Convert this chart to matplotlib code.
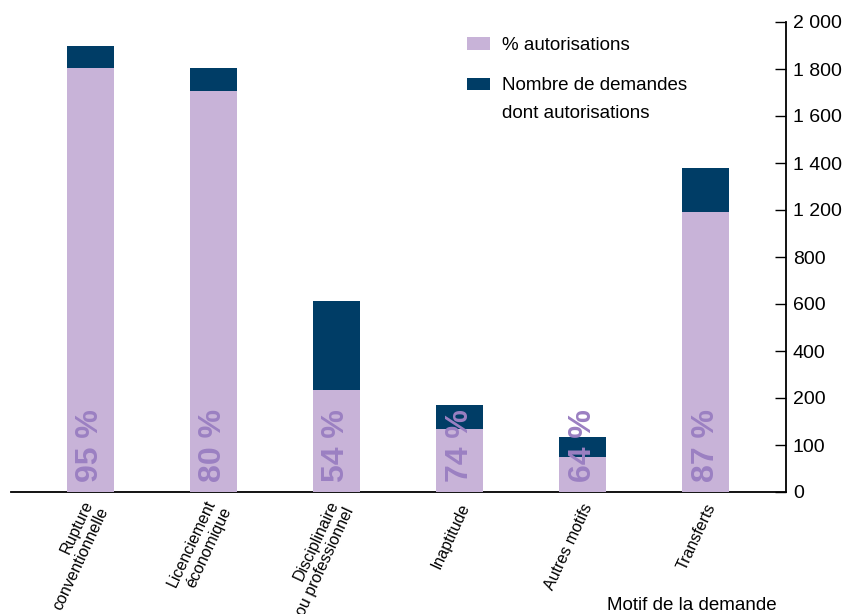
import matplotlib
matplotlib.use("Agg")
import matplotlib.pyplot as plt
from matplotlib.patches import Patch
import matplotlib.transforms as mtransforms

categories = ["Rupture\nconventionnelle", "Licenciement\néconomique", "Disciplinaire\nou professionnel",
              "Inaptitude", "Autres motifs", "Transferts"]
total_demandes = [1899, 1804, 811, 370, 234, 1377]
autorisations = [1803, 1705, 434, 267, 149, 1191]
pct_labels = ["95 %", "80 %", "54 %", "74 %", "64 %", "87 %"]
ytick_values = [0, 200, 400, 600, 800, 1000, 1200, 1400, 1600, 1800, 2000]
ytick_labels = ["0", "100", "200", "400", "600", "800", "1 200", "1 400", "1 600", "1 800", "2 000"]
legend_labels = ["% autorisations", "Nombre de demandes", "dont autorisations"]

PINK = "#c8b3d8"
NAVY = "#003d66"
PCT = "#9b80c2"
FONT = "Liberation Sans"

plt.rcParams['font.family'] = [FONT, 'DejaVu Sans']

fig = plt.figure(figsize=(8.46, 6.14), dpi=100)
ax = fig.add_axes([11/846, 1-492/614, (786-11)/846, (492-22)/614])

x = list(range(len(categories)))
w = 0.382
ax.bar(x, total_demandes, width=w, color=NAVY, zorder=2)
ax.bar(x, autorisations, width=w, color=PINK, zorder=3)

for xi, lab in zip(x, pct_labels):
    ax.text(xi, 42, lab, rotation=90, ha='center', va='bottom', color=PCT,
            fontsize=23, fontweight='bold', zorder=4)

ax.set_xlim(-0.646, 5.654)
ax.set_ylim(0, 2000)

for s in ['top', 'left']:
    ax.spines[s].set_visible(False)
ax.spines['bottom'].set_linewidth(1.3)
ax.spines['right'].set_linewidth(1.3)

ax.yaxis.tick_right()
ax.set_yticks(ytick_values)
ax.set_yticklabels(ytick_labels)
ax.tick_params(axis='y', direction='in', length=8, width=1, labelsize=14, pad=5)

ax.set_xticks(x)
ax.set_xticklabels(categories, rotation=65, ha='right', va='center', rotation_mode='anchor',
                   multialignment='right', fontsize=11.5, linespacing=1.15)
ax.tick_params(axis='x', length=0, pad=9)
offset = mtransforms.ScaledTranslation(6/100, 0, fig.dpi_scale_trans)
for lbl in ax.get_xticklabels():
    lbl.set_transform(lbl.get_transform() + offset)

handles = [Patch(facecolor=PINK, edgecolor='none'), Patch(facecolor=NAVY, edgecolor='none')]
ax.legend(handles, legend_labels[:2],
          loc='upper left', bbox_to_anchor=((467-11)/775, (492-37)/470), frameon=False, fontsize=13.5,
          handlelength=1.23, handleheight=0.64, handletextpad=0.64, labelspacing=1.25,
          borderpad=0, borderaxespad=0)
ax.text((502-11)/775, (492-113)/470, legend_labels[2], transform=ax.transAxes,
        ha='left', va='center', fontsize=13.5)

fig.text(777/846, 1-605/614, "Motif de la demande", ha='right', va='center', fontsize=13.5)

fig.savefig("out.png", dpi=100)
